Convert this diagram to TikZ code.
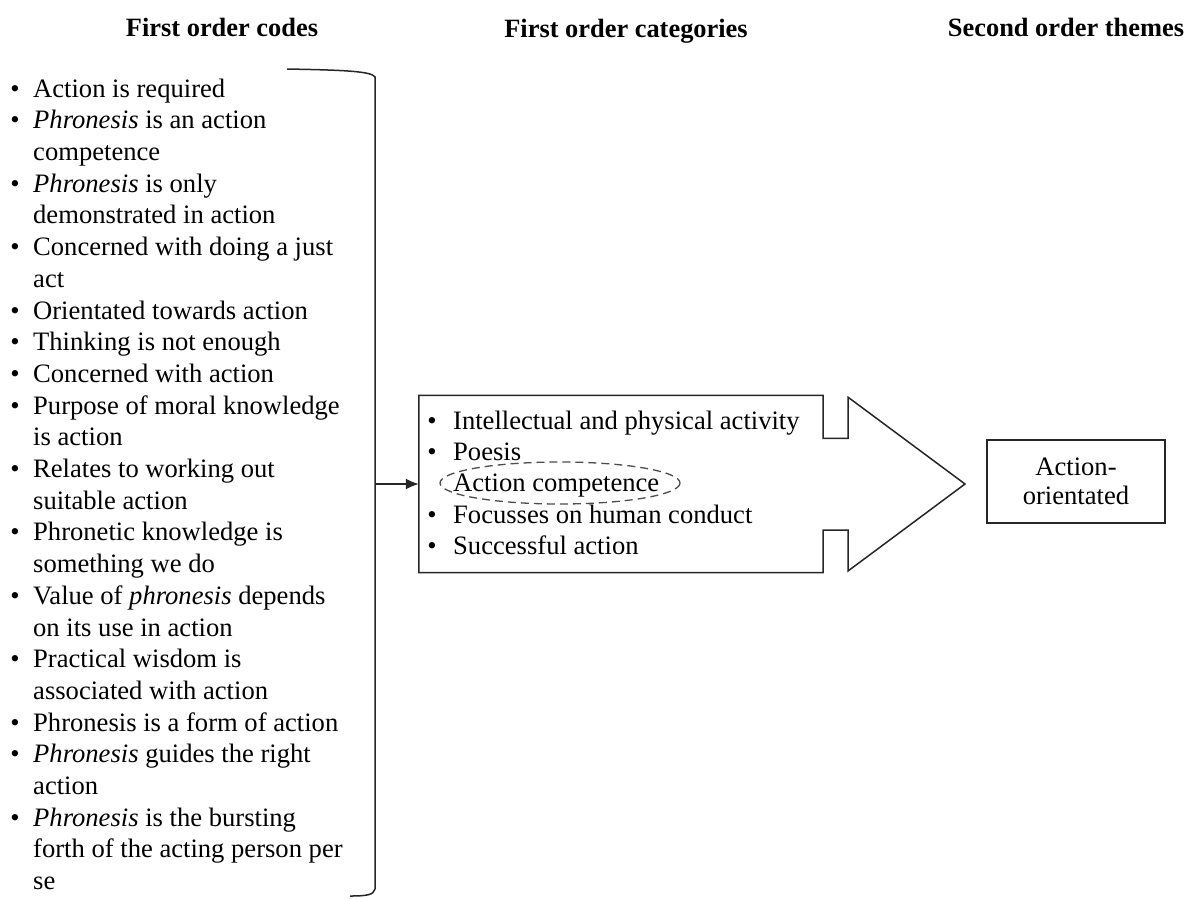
\documentclass[tikz,border=0pt]{standalone}
\usepackage{fontspec}
\setmainfont{Liberation Serif}
\usetikzlibrary{arrows.meta}
\newcommand\bulA{\llap{\textbullet\hspace{13.5pt}}}
\newcommand\bulB{\llap{\textbullet\hspace{16.5pt}}}
\begin{document}
\begin{tikzpicture}[x=1pt,y=-1pt,
  txt/.style={inner sep=0pt,font=\fontsize{26.6pt}{31.7pt}\selectfont},
  head/.style={inner sep=0pt,anchor=base,font=\fontsize{26.4pt}{30pt}\selectfont\bfseries},
  edge/.style={line width=1.5pt,draw=black!85},
  dashring/.style={line width=1.3pt,draw=black!70,dash pattern=on 8pt off 5pt}]
\useasboundingbox (0,0) rectangle (1187,898);

% column headings
\node[head] (h1) at (222,36) {First order codes};
\node[head] (h2) at (626,37) {First order categories};
\node[head] (h3) at (1066,36) {Second order themes};

% first order codes
\node[txt,anchor=north west,align=left] (codes) at (33,78.5) {%
\bulA Action is required\\
\bulA \emph{Phronesis} is an action\\
competence\\
\bulA \emph{Phronesis} is only\\
demonstrated in action\\
\bulA Concerned with doing a just\\
act\\
\bulA Orientated towards action\\
\bulA Thinking is not enough\\
\bulA Concerned with action\\
\bulA Purpose of moral knowledge\\
is action\\
\bulA Relates to working out\\
suitable action\\
\bulA Phronetic knowledge is\\
something we do\\
\bulA Value of \emph{phronesis} depends\\
on its use in action\\
\bulA Practical wisdom is\\
associated with action\\
\bulA Phronesis is a form of action\\
\bulA \emph{Phronesis} guides the right\\
action\\
\bulA \emph{Phronesis} is the bursting\\
forth of the acting person per\\
se};

% bracket gathering the codes
\coordinate (bt) at (287,69);
\coordinate (bm) at (375,484);
\coordinate (bb) at (350,896);
\draw[edge] (bt) .. controls (340,70) and (372,71) .. (375,77) -- (375,889)
  .. controls (374,895) and (366,896) .. (bb);

% first order categories: box merged with a block arrow
\node[minimum width=404pt,minimum height=177pt,inner sep=0pt] (cat) at (621,484) {};
\draw[edge,line join=miter] (cat.north west) -- (cat.north east) -- ++(0,43) -- ++(25,0)
  -- ++(0,-41) -- (965,484) -- (848,571) -- ++(0,-41) -- ++(-25,0)
  -- (cat.south east) -- (cat.south west) -- cycle;

\node[txt,anchor=north west,align=left,font=\fontsize{26.6pt}{31.3pt}\selectfont] (cats) at (453,410.5) {%
\bulB Intellectual and physical activity\\
\bulB Poesis\\
Action competence\\
\bulB Focusses on human conduct\\
\bulB Successful action};

\draw[dashring] (560,483) ellipse (120 and 21);

\draw[edge,-{Latex[length=13pt,width=11pt]}] (bm) -- (cat.west);

% second order theme
\node[draw=black!85,line width=1.5pt,minimum width=178pt,minimum height=83pt,
  align=center,inner sep=0pt,font=\fontsize{26.6pt}{29.5pt}\selectfont] (theme) at (1076,481.5)
  {Action-\\orientated};
\end{tikzpicture}
\end{document}
